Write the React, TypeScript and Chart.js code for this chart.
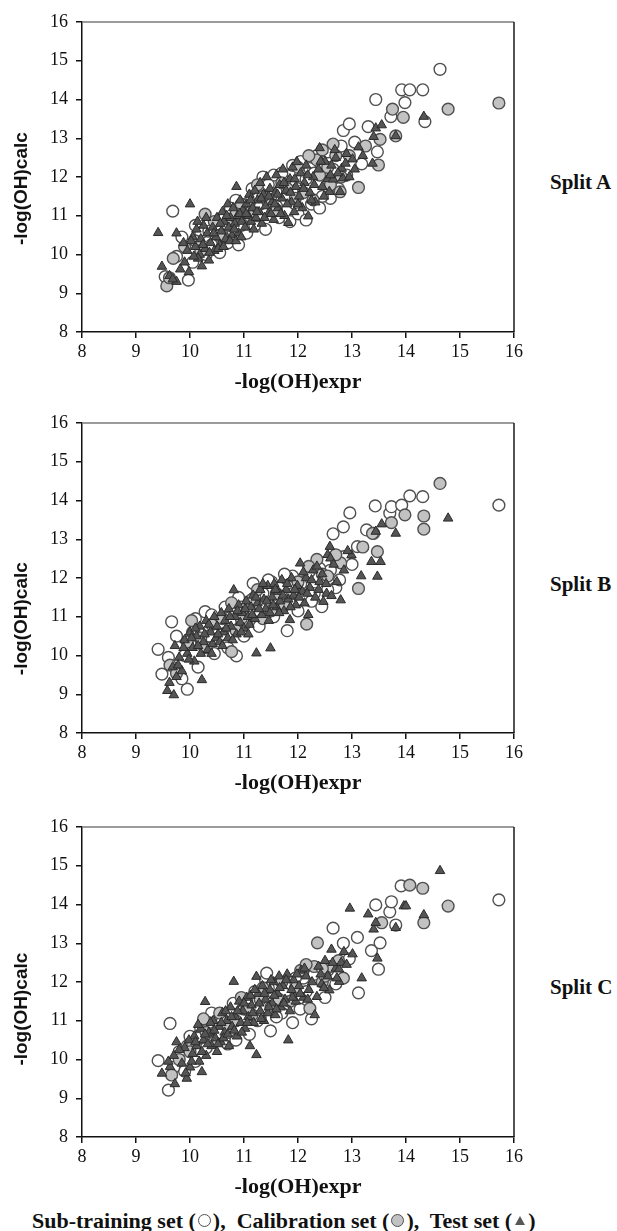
import React, { useEffect, useRef } from 'react';
import { Chart, registerables } from 'chart.js';

Chart.register(...registerables);

type Pt = [number, number];

const axisMin = 8;
const axisMax = 16;
const tickStep = 1;

const splitLabels = ['Split A', 'Split B', 'Split C'];
const xTitle = '-log(OH)expr';
const yTitle = '-log(OH)calc';
const seriesNames = ['Sub-training set', 'Calibration set', 'Test set'];

const splitA_test: Pt[] = [
  [9.41,10.56],[9.48,9.69],[9.62,9.45],[9.75,9.30],[9.68,9.36],[9.75,10.55],[9.82,9.62],[9.90,9.80],[9.88,10.30],[10.00,11.30],[9.95,10.10],[9.98,9.55],
  [10.05,10.45],[10.10,10.20],[10.12,10.65],[10.18,10.00],[10.20,10.40],[10.25,10.75],[10.28,10.15],[10.32,10.55],[10.35,9.85],[10.38,10.30],[10.42,10.70],[10.45,10.10],[10.48,10.45],[10.50,10.95],[10.15,9.90],[10.22,9.70],
  [10.55,10.25],[10.58,10.60],[10.60,11.10],[10.63,10.85],[10.66,10.40],[10.70,11.30],[10.72,10.70],[10.75,10.95],[10.78,10.50],[10.80,11.20],[10.83,10.80],[10.86,11.75],[10.88,11.00],[10.90,10.55],[10.93,11.40],[10.96,10.85],[10.98,11.15],
  [11.02,10.70],[11.05,11.30],[11.08,11.00],[11.10,11.55],[11.13,10.85],[11.16,11.20],[11.20,11.65],[11.22,10.95],[11.25,11.40],[11.28,11.10],[11.30,11.85],[11.33,10.80],[11.36,11.55],[11.40,11.25],[11.42,12.00],[11.45,11.05],[11.48,11.70],
  [11.52,11.35],[11.55,10.90],[11.58,11.60],[11.60,12.05],[11.63,11.20],[11.66,11.80],[11.70,11.45],[11.72,12.20],[11.75,11.00],[11.78,11.65],[11.82,10.82],[11.85,11.95],[11.88,11.35],[11.90,12.25],[11.93,11.10],[11.96,11.75],[11.98,12.39],
  [12.02,11.50],[12.05,12.10],[12.08,11.20],[12.12,11.85],[12.15,12.30],[12.19,10.99],[12.22,11.60],[12.28,12.00],[12.32,11.35],[12.38,12.20],[12.45,11.75],[12.50,12.40],[12.55,11.95],[12.58,11.62],[12.62,12.30],[12.65,11.94],[12.70,12.50],[12.78,11.62],[12.81,12.22],[12.83,11.97],[12.90,12.60],
  [13.01,12.46],[13.12,12.77],[13.38,12.35],[13.40,13.04],[13.44,13.26],[13.55,13.34],[13.81,13.06],[14.33,13.56],
  [10.02,10.35],[10.07,9.95],[10.14,10.85],[10.24,10.25],[10.30,10.95],[10.36,10.05],[10.44,10.55],[10.52,10.15],[10.56,10.80],[10.62,10.20],[10.68,11.00],[10.74,10.35],[10.82,10.65],[10.85,10.35],[10.92,11.05],[10.95,10.45],
  [11.04,11.05],[11.12,11.40],[11.18,10.65],[11.24,11.10],[11.32,11.45],[11.38,10.95],[11.46,11.50],[11.50,11.05],[11.57,11.30],[11.62,11.55],[11.68,11.05],[11.74,11.85],[11.80,11.30],[11.86,11.60],[11.94,11.95],
  [12.00,11.30],[12.10,11.70],[12.18,12.05],[12.25,11.40],[12.30,11.80],[12.42,12.40],[12.48,11.50],[12.60,12.05],[12.68,12.70],[12.74,12.10],[12.88,12.35],[12.40,12.75],[12.95,12.00],[13.05,12.20],[13.20,12.55],
];
const splitA_sub: Pt[] = [
  [9.54,9.43],[9.68,11.12],[9.97,9.34],[9.75,9.95],[9.85,10.45],[10.05,9.80],[10.10,10.75],[10.20,10.55],[10.30,10.00],[10.40,10.25],[10.50,10.60],[10.55,10.05],[10.65,11.00],[10.70,10.30],[10.80,10.60],[10.85,11.40],[10.90,10.25],[11.00,11.10],[11.05,10.55],[11.15,11.70],[11.20,10.75],[11.30,11.30],[11.35,12.00],[11.40,10.65],[11.50,11.50],[11.55,12.05],[11.65,10.95],[11.75,11.90],[11.85,10.85],[11.90,12.30],[11.95,11.30],[12.00,11.05],[12.05,12.40],[12.15,10.89],[12.22,12.22],[12.25,11.30],[12.35,12.55],[12.40,11.20],[12.50,12.10],[12.60,11.45],[12.70,12.60],[12.75,11.70],[12.84,13.20],[12.95,13.37],[13.18,12.34],[13.30,13.30],[13.44,14.00],[13.47,12.65],[13.72,13.56],[13.92,14.25],[13.98,13.92],[14.07,14.25],[14.31,14.25],[14.35,13.43],[14.63,14.78],
  [10.15,10.30],[10.35,10.60],[10.60,10.45],[10.75,11.20],[10.95,10.75],[11.10,11.35],[11.25,11.00],[11.45,11.80],[11.60,11.25],[11.70,12.10],[11.80,11.55],[12.00,11.70],[12.15,11.95],[12.30,12.10],[12.45,11.50],[12.55,12.65],[12.65,12.20],[12.80,12.80],[12.90,12.05],[13.05,12.90],
];
const splitA_cal: Pt[] = [
  [9.57,9.19],[9.62,9.40],[9.69,9.90],[9.90,10.20],[10.10,10.35],[10.28,11.04],[10.45,10.85],[10.70,10.75],[10.95,11.30],[11.10,11.00],[11.25,11.80],[11.45,11.35],[11.60,11.15],[11.80,11.70],[12.00,12.25],[12.10,11.60],[12.28,11.41],[12.35,12.44],[12.40,12.05],[12.55,12.25],[12.65,12.85],[12.70,12.55],[12.78,11.62],[12.80,12.00],[13.12,11.73],[13.49,12.31],[13.52,12.97],[13.75,13.75],[13.81,13.06],[13.95,13.54],[14.78,13.75],[15.72,13.91],
  [10.20,10.10],[10.55,10.50],[10.85,11.05],[11.35,11.50],[11.70,11.85],[11.95,11.45],[12.20,12.55],[12.45,12.70],[12.60,11.80],[12.95,12.55],[13.25,12.80],
];

const splitB_test: Pt[] = [
  [9.58,9.09],[9.70,8.98],[9.62,9.30],[9.75,9.45],[9.68,9.70],[9.80,9.95],[9.72,10.25],[9.85,9.60],[9.90,10.40],[9.95,10.05],[10.22,9.37],[10.00,10.60],
  [10.05,10.20],[10.08,9.85],[10.12,10.50],[10.18,10.75],[10.20,10.05],[10.25,10.35],[10.30,10.90],[10.33,10.15],[10.38,10.60],[10.42,10.30],[10.45,11.00],[10.48,10.45],[10.50,10.75],
  [10.55,10.35],[10.58,11.10],[10.62,10.60],[10.65,10.90],[10.70,10.45],[10.72,11.20],[10.76,10.75],[10.81,11.69],[10.83,11.00],[10.86,10.55],[10.90,11.30],[10.93,10.85],[10.97,11.10],
  [11.00,10.70],[11.04,11.40],[11.07,11.00],[11.10,10.80],[11.13,11.25],[11.17,11.55],[11.20,10.95],[11.23,10.06],[11.25,11.35],[11.30,11.70],[11.33,11.05],[11.37,11.45],[11.40,11.20],[11.44,11.80],[11.48,11.10],[11.49,10.19],
  [11.52,11.50],[11.56,11.85],[11.60,11.25],[11.63,11.65],[11.67,11.40],[11.70,11.95],[11.74,11.15],[11.78,11.70],[11.82,11.45],[11.85,10.92],[11.88,12.00],[11.92,11.55],[11.96,11.30],[11.99,11.80],
  [12.04,12.38],[12.08,11.65],[12.12,11.35],[12.15,12.00],[12.19,11.05],[12.22,11.75],[12.28,12.20],[12.32,11.50],[12.40,11.90],[12.47,11.39],[12.53,11.60],[12.55,12.60],[12.59,12.81],[12.60,12.51],[12.62,11.54],[12.79,11.43],[12.99,12.59],
  [13.17,12.05],[13.36,12.42],[13.44,13.20],[13.47,12.04],[13.53,12.42],[13.55,13.39],[13.81,13.15],[14.78,13.54],
  [9.78,9.75],[9.88,10.20],[9.98,9.90],[10.03,10.45],[10.10,10.70],[10.15,10.25],[10.27,10.55],[10.35,10.80],[10.40,10.05],[10.52,10.55],[10.60,10.25],[10.67,10.70],[10.74,11.00],[10.79,10.40],[10.88,11.15],[10.95,10.60],
  [11.02,11.20],[11.08,10.55],[11.15,11.05],[11.22,11.50],[11.28,11.20],[11.35,11.85],[11.42,11.40],[11.46,10.90],[11.54,11.30],[11.58,11.70],[11.65,11.10],[11.72,11.55],[11.80,11.85],[11.86,11.25],[11.94,11.70],
  [12.02,11.50],[12.10,12.15],[12.17,11.60],[12.25,11.95],[12.35,12.30],[12.38,11.70],[12.45,12.10],[12.52,11.85],[12.66,12.35],[12.72,11.90],[12.85,12.20],[12.92,12.70],
];
const splitB_sub: Pt[] = [
  [9.41,10.16],[9.48,9.52],[9.66,10.87],[9.95,9.13],[9.60,9.95],[9.75,10.50],[9.85,9.40],[10.00,10.30],[10.10,10.95],[10.15,9.70],[10.28,11.13],[10.35,10.50],[10.45,10.05],[10.55,10.80],[10.65,11.25],[10.70,10.20],[10.86,9.99],[10.90,11.50],[11.00,10.50],[11.10,11.20],[11.17,11.86],[11.28,10.75],[11.35,11.60],[11.51,11.90],[11.55,11.00],[11.65,11.75],[11.80,10.64],[11.90,12.05],[12.00,11.15],[12.10,11.90],[12.20,12.15],[12.30,11.60],[12.44,11.26],[12.50,12.40],[12.60,12.20],[12.65,13.14],[12.70,11.75],[12.77,11.95],[12.84,13.32],[12.96,13.68],[13.10,12.81],[13.27,13.24],[13.40,13.15],[13.43,13.86],[13.70,13.67],[13.73,13.84],[13.92,13.88],[14.07,14.12],[14.31,14.10],[15.72,13.88],
  [9.90,10.00],[10.05,10.60],[10.25,10.25],[10.40,11.05],[10.60,10.55],[10.75,10.90],[10.95,11.25],[11.05,10.85],[11.20,11.50],[11.40,11.05],[11.45,11.95],[11.60,11.40],[11.75,12.10],[11.85,11.35],[12.05,11.85],[12.25,11.40],[12.40,12.25],[12.55,11.70],[12.85,12.55],[13.00,12.35],
];
const splitB_cal: Pt[] = [
  [9.63,9.75],[9.75,9.54],[10.03,10.90],[10.20,10.45],[10.40,10.80],[10.77,11.36],[10.77,10.10],[10.95,10.95],[11.15,11.45],[11.35,10.95],[11.60,11.60],[11.75,11.30],[12.00,11.90],[12.16,10.81],[12.35,12.48],[12.45,12.10],[12.79,12.39],[13.12,11.73],[13.38,13.15],[13.47,12.68],[13.73,13.43],[13.98,13.63],[14.33,13.60],[14.33,13.26],[14.63,14.44],
  [9.95,10.35],[10.30,10.20],[10.60,10.95],[10.85,10.65],[11.25,11.70],[11.50,11.15],[11.90,11.60],[12.20,12.30],[12.55,12.05],[12.70,12.60],[13.20,12.80],
];

const splitC_test: Pt[] = [
  [9.48,9.64],[9.63,9.81],[9.72,9.37],[9.94,9.51],[10.22,9.68],[9.70,10.10],[9.85,9.90],[9.75,10.45],[9.90,10.30],[10.00,9.80],[10.28,11.49],
  [10.05,10.15],[10.08,10.60],[10.12,10.35],[10.17,9.95],[10.20,10.80],[10.25,10.50],[10.30,10.10],[10.35,10.70],[10.40,10.35],[10.43,11.00],[10.47,10.55],[10.50,10.20],
  [10.54,10.85],[10.57,10.45],[10.60,11.20],[10.64,10.70],[10.68,11.00],[10.72,10.35],[10.75,11.35],[10.78,10.85],[10.81,12.01],[10.84,11.10],[10.87,10.60],[10.91,11.50],[10.94,10.95],[10.98,11.25],
  [11.02,10.80],[11.05,11.60],[11.08,11.10],[11.11,10.35],[11.14,11.40],[11.18,10.95],[11.23,12.14],[11.23,10.12],[11.26,11.70],[11.30,11.25],[11.34,11.90],[11.37,11.00],[11.40,11.55],[11.44,11.20],[11.48,11.80],
  [11.52,11.45],[11.55,12.00],[11.58,11.15],[11.62,11.70],[11.65,12.15],[11.68,11.35],[11.72,11.90],[11.76,11.55],[11.80,12.20],[11.82,10.50],[11.85,11.25],[11.88,11.80],[11.92,12.05],[11.96,11.50],
  [12.02,11.90],[12.06,12.30],[12.10,11.60],[12.15,12.15],[12.20,11.80],[12.31,11.15],[12.35,11.62],[12.38,12.40],[12.44,11.95],[12.50,12.55],[12.55,12.15],[12.58,11.79],[12.62,12.84],[12.70,12.35],[12.76,12.01],[12.76,12.33],[12.80,12.50],[12.85,12.78],[12.96,13.90],[13.01,12.72],
  [13.18,12.10],[13.30,13.75],[13.40,13.36],[13.44,13.53],[13.47,12.61],[13.81,13.40],[13.96,13.96],[14.00,13.96],[14.33,13.73],[14.63,14.87],
  [9.60,9.95],[9.80,10.25],[9.92,9.65],[9.98,10.50],[10.03,9.95],[10.10,10.45],[10.15,10.90],[10.22,10.20],[10.28,10.65],[10.33,10.40],[10.38,10.95],[10.45,10.75],[10.52,10.40],[10.58,10.95],[10.62,10.55],[10.66,11.25],[10.70,10.65],[10.77,11.10],[10.82,10.75],[10.88,11.25],[10.96,10.70],
  [11.00,11.45],[11.06,10.95],[11.12,11.65],[11.16,11.20],[11.20,11.80],[11.28,11.45],[11.32,11.05],[11.38,11.70],[11.46,11.35],[11.50,12.05],[11.56,11.65],[11.60,11.30],[11.66,11.85],[11.74,11.45],[11.78,12.05],[11.90,11.60],[11.98,12.20],
  [12.04,11.70],[12.12,12.35],[12.18,11.55],[12.26,12.00],[12.42,12.20],[12.48,11.85],[12.64,12.50],[12.72,12.10],[12.90,12.45],
];
const splitC_sub: Pt[] = [
  [9.41,9.97],[9.60,9.21],[9.63,10.93],[9.80,10.20],[9.90,9.70],[10.00,10.60],[10.10,9.95],[10.20,10.80],[10.30,10.30],[10.40,11.20],[10.50,10.55],[10.60,11.00],[10.70,10.40],[10.80,11.45],[10.90,10.80],[11.00,11.30],[11.10,10.65],[11.20,11.75],[11.30,11.10],[11.40,12.05],[11.42,12.23],[11.49,10.74],[11.55,11.50],[11.70,11.20],[11.80,11.95],[11.90,10.95],[12.00,11.55],[12.04,11.30],[12.10,12.10],[12.25,11.05],[12.40,12.30],[12.50,11.60],[12.65,13.39],[12.84,13.00],[13.10,13.15],[13.12,11.72],[13.36,12.81],[13.44,13.99],[13.49,12.33],[13.52,13.01],[13.70,13.81],[13.73,14.07],[13.81,13.47],[13.91,14.48],[15.72,14.12],
  [9.70,9.80],[9.95,10.35],[10.15,10.55],[10.35,10.95],[10.55,10.65],[10.75,11.20],[10.85,10.50],[11.05,11.50],[11.25,11.00],[11.45,11.85],[11.60,11.10],[11.75,11.70],[11.95,12.10],[12.15,11.75],[12.30,12.20],[12.55,12.30],[12.70,11.95],[12.95,12.60],
];
const splitC_cal: Pt[] = [
  [9.66,9.60],[9.80,10.00],[10.05,10.40],[10.30,10.70],[10.55,11.20],[10.70,10.85],[10.95,11.60],[11.15,11.15],[11.35,11.85],[11.50,11.35],[11.70,12.00],[11.85,11.50],[12.05,12.30],[12.22,11.32],[12.30,12.40],[12.36,13.01],[12.45,12.00],[12.60,12.40],[12.84,12.10],[13.55,13.53],[14.07,14.50],[14.31,14.42],[14.33,13.53],[14.78,13.96],
  [10.00,10.20],[10.25,11.05],[10.45,10.45],[10.85,11.00],[11.05,11.30],[11.30,11.55],[11.65,11.55],[11.95,11.85],[12.15,12.45],[12.50,12.15],[12.75,12.55],[12.45,12.35],
];

const yTitleCenters = [11.7, 10.95, 11.3];

const serif = 'Liberation Serif';
const ink = '#111';

const framePlugin = {
  id: 'frame',
  beforeDatasetsDraw(chart: any) {
    const { ctx, chartArea: a } = chart;
    ctx.save();
    ctx.lineWidth = 1.5;
    ctx.strokeStyle = '#7a7a7a';
    ctx.beginPath();
    ctx.moveTo(a.left, a.top);
    ctx.lineTo(a.right, a.top);
    ctx.stroke();
    ctx.strokeStyle = '#1a1a1a';
    ctx.beginPath();
    ctx.moveTo(a.right, a.top);
    ctx.lineTo(a.right, a.bottom);
    ctx.stroke();
    ctx.restore();
  },
};

const yTitlePlugin = {
  id: 'yTitle',
  afterDraw(chart: any, _args: any, opts: any) {
    const { ctx } = chart;
    const y = chart.scales.y.getPixelForValue(opts.center);
    ctx.save();
    ctx.translate(22, y);
    ctx.rotate(-Math.PI / 2);
    ctx.font = 'bold 19px "Liberation Sans"';
    ctx.fillStyle = ink;
    ctx.textAlign = 'center';
    ctx.textBaseline = 'middle';
    ctx.fillText(opts.text, 0, 0);
    ctx.restore();
  },
};

const toXY = (arr: Pt[]) => arr.map(([x, y]) => ({ x, y }));

function SplitChart(props: { top: number; sub: Pt[]; cal: Pt[]; test: Pt[]; yCenter: number }) {
  const ref = useRef<HTMLCanvasElement>(null);
  useEffect(() => {
    const tickFont = { family: serif, size: 18 };
    const axisCommon = {
      type: 'linear' as const,
      min: axisMin,
      max: axisMax,
      grid: { drawOnChartArea: false, drawTicks: true, tickLength: 6, color: ink, lineWidth: 1.5 },
      border: { display: true, color: ink, width: 1.5 },
    };
    const chart = new Chart(ref.current!, {
      type: 'scatter',
      data: {
        datasets: [
          {
            label: seriesNames[2],
            data: toXY(props.test),
            pointStyle: 'triangle',
            pointRadius: 5.5,
            backgroundColor: '#555555',
            borderColor: '#2a2a2a',
            borderWidth: 1,
            order: 0,
          },
          {
            label: seriesNames[1],
            data: toXY(props.cal),
            pointStyle: 'circle',
            pointRadius: 5.9,
            backgroundColor: '#c2c2c2',
            borderColor: '#505050',
            borderWidth: 1.4,
            order: 1,
          },
          {
            label: seriesNames[0],
            data: toXY(props.sub),
            pointStyle: 'circle',
            pointRadius: 5.9,
            backgroundColor: '#ffffff',
            borderColor: '#505050',
            borderWidth: 1.4,
            order: 2,
          },
        ],
      },
      options: {
        responsive: false,
        animation: false,
        devicePixelRatio: 1,
        layout: { padding: { left: 0, top: 22, right: 16, bottom: 0 } },
        plugins: {
          legend: { display: false },
          tooltip: { enabled: false },
          yTitle: { center: props.yCenter, text: yTitle },
        } as any,
        scales: {
          x: {
            ...axisCommon,
            afterFit: (s: any) => { s.height = 68; },
            ticks: { stepSize: tickStep, padding: 3, font: tickFont, color: ink, autoSkip: false, maxRotation: 0 },
            title: {
              display: true,
              text: xTitle,
              color: ink,
              font: { family: serif, size: 22, weight: 'bold' },
              padding: { top: 0, bottom: 4 },
            },
          },
          y: {
            ...axisCommon,
            afterFit: (s: any) => { s.width = 82; },
            ticks: { stepSize: tickStep, padding: 8, font: tickFont, color: ink, autoSkip: false },
          },
        },
      },
      plugins: [framePlugin, yTitlePlugin],
    });
    return () => chart.destroy();
  }, []);
  return (
    <canvas
      ref={ref}
      width={530}
      height={400}
      style={{ position: 'absolute', left: 0, top: props.top, width: 530, height: 400 }}
    />
  );
}

const labelStyle: React.CSSProperties = {
  position: 'absolute',
  left: 550,
  fontFamily: serif,
  fontWeight: 'bold',
  fontSize: 21,
  lineHeight: '24px',
  color: ink,
  whiteSpace: 'nowrap',
};

const sym = (kind: 'open' | 'gray' | 'tri') => {
  if (kind === 'tri') {
    return (
      <span
        style={{
          display: 'inline-block',
          width: 0,
          height: 0,
          borderLeft: '5px solid transparent',
          borderRight: '5px solid transparent',
          borderBottom: '9px solid #585858',
          verticalAlign: 'middle',
          margin: '0 3px',
          position: 'relative',
          top: -2,
        }}
      />
    );
  }
  return (
    <span
      style={{
        display: 'inline-block',
        width: 11,
        height: 11,
        borderRadius: '50%',
        border: '1.3px solid #505050',
        background: kind === 'gray' ? '#c2c2c2' : '#fff',
        verticalAlign: 'middle',
        margin: '0 2px',
        position: 'relative',
        top: -2,
      }}
    />
  );
};

export default function App() {
  return (
    <div style={{ position: 'absolute', left: 0, top: 0, width: 617, height: 1231, background: '#fff' }}>
      <SplitChart top={0} sub={splitA_sub} cal={splitA_cal} test={splitA_test} yCenter={yTitleCenters[0]} />
      <SplitChart top={401} sub={splitB_sub} cal={splitB_cal} test={splitB_test} yCenter={yTitleCenters[1]} />
      <SplitChart top={805} sub={splitC_sub} cal={splitC_cal} test={splitC_test} yCenter={yTitleCenters[2]} />
      <div style={{ ...labelStyle, top: 170 }}>{splitLabels[0]}</div>
      <div style={{ ...labelStyle, top: 572 }}>{splitLabels[1]}</div>
      <div style={{ ...labelStyle, top: 975 }}>{splitLabels[2]}</div>
      <div
        style={{
          position: 'absolute',
          left: 32,
          top: 1208,
          fontFamily: serif,
          fontWeight: 'bold',
          fontSize: 22,
          lineHeight: '26px',
          color: ink,
          whiteSpace: 'nowrap',
        }}
      >
        {seriesNames[0]} ({sym('open')}),{'\u00a0 '}{seriesNames[1]} ({sym('gray')}),{'\u00a0 '}{seriesNames[2]} ({sym('tri')})
      </div>
    </div>
  );
}
